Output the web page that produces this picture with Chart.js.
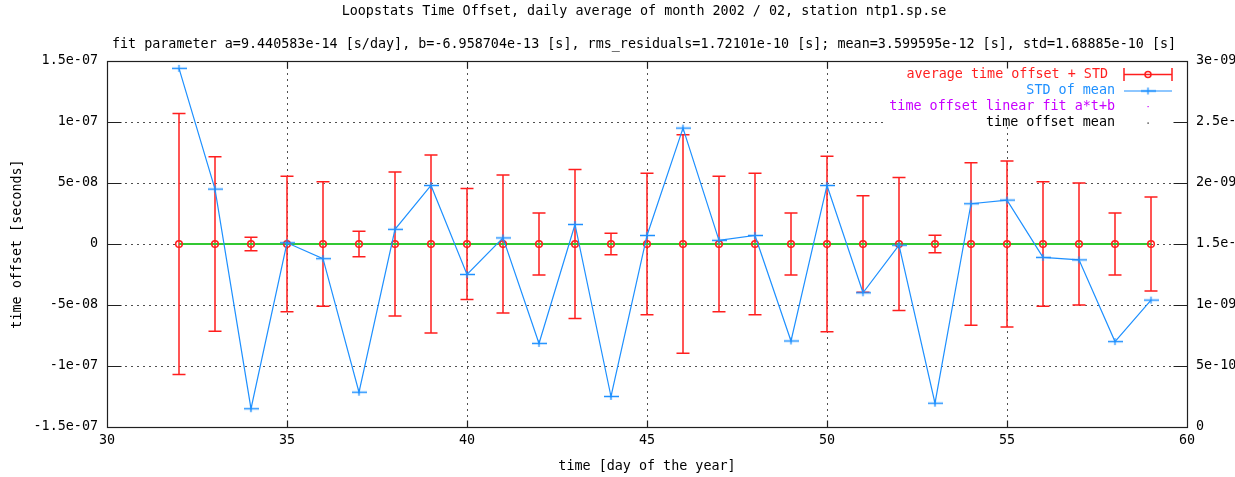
<!DOCTYPE html>
<html><head><meta charset="utf-8">
<script src="https://cdn.jsdelivr.net/npm/chart.js@4/dist/chart.umd.min.js"></script>
<style>html,body{margin:0;padding:0;background:#fff;overflow:hidden}canvas{display:block}</style>
</head><body>
<canvas id="c" width="1235" height="477"></canvas>
<script>
// ---------- data ----------
const titleText = 'Loopstats Time Offset, daily average of month 2002 / 02, station ntp1.sp.se';
const subtitleText = 'fit parameter a=9.440583e-14 [s/day], b=-6.958704e-13 [s], rms_residuals=1.72101e-10 [s]; mean=3.599595e-12 [s], std=1.68885e-10 [s]';
const xTitle = 'time [day of the year]';
const yTitle = 'time offset [seconds]';
const legendLabels = ['average time offset + STD', 'STD of mean', 'time offset linear fit a*t+b', 'time offset mean'];

const days = [32,33,34,35,36,37,38,39,40,41,42,43,44,45,46,47,48,49,50,51,52,53,54,55,56,57,58,59];
const avgOffset = [0,0,0,0,0,0,0,0,0,0,0,0,0,0,0,0,0,0,0,0,0,0,0,0,0,0,0,0];
const stdDev = [1.07e-7,7.15e-8,5.5e-9,5.55e-8,5.1e-8,1.05e-8,5.9e-8,7.3e-8,4.55e-8,5.65e-8,
                2.55e-8,6.1e-8,8.8e-9,5.8e-8,8.95e-8,5.55e-8,5.8e-8,2.55e-8,7.2e-8,3.95e-8,
                5.45e-8,7.2e-9,6.65e-8,6.8e-8,5.1e-8,5.0e-8,2.55e-8,3.85e-8];
const stdOfMean = [2.94e-9,1.95e-9,1.5e-10,1.51e-9,1.38e-9,2.85e-10,1.62e-9,1.98e-9,1.25e-9,1.55e-9,
                   6.85e-10,1.66e-9,2.5e-10,1.57e-9,2.45e-9,1.53e-9,1.57e-9,7.05e-10,1.98e-9,1.1e-9,
                   1.49e-9,1.95e-10,1.83e-9,1.86e-9,1.39e-9,1.37e-9,7.0e-10,1.04e-9];
const fitDays = [32, 59];
const fitValues = [2.3e-12, 4.87e-12];
const meanValue = [3.6e-12, 3.6e-12];

const xTicks = [30,35,40,45,50,55,60];
const yTicks = [-1.5e-7,-1e-7,-5e-8,0,5e-8,1e-7,1.5e-7];
const y2Ticks = [0,5e-10,1e-9,1.5e-9,2e-9,2.5e-9,3e-9];

// ---------- styles ----------
const MONO = '"DejaVu Sans Mono", "Liberation Mono", monospace';
const FS = 13.4;
const FONT = FS + 'px ' + MONO;
const RED = 'rgb(255,30,30)';
const BLUE = 'rgb(30,144,255)';
const GREEN = 'rgb(50,200,50)';
const MAGENTA = 'rgb(200,0,255)';

function gfmt(v){
  if (Math.abs(v) < 1e-20) return '0';
  const s = Number(v.toPrecision(6)).toExponential();
  let [m, e] = s.split('e');
  m = String(Number(m));
  const sign = e[0] === '-' ? '-' : '+';
  let ed = e.replace(/^[+-]/, '');
  if (ed.length < 2) ed = '0' + ed;
  return m + 'e' + sign + ed;
}

// plus marker (wide horizontal, short vertical)
function makePlus(color){
  const c = document.createElement('canvas');
  c.width = 15; c.height = 9;
  const g = c.getContext('2d');
  g.strokeStyle = color; g.lineWidth = 1.3;
  g.beginPath(); g.moveTo(0, 4.5); g.lineTo(15, 4.5);
  g.moveTo(7.5, 1); g.lineTo(7.5, 8); g.stroke();
  return c;
}
const plusMarker = makePlus(BLUE);

const fixTicks = arr => s => { s.ticks = arr.map(v => ({value: v})); };

const framePlugin = {
  id: 'gnuframe',
  beforeDatasetsDraw(chart){
    const {ctx, chartArea: a, scales: {x, y}} = chart;
    ctx.save();
    // dotted grid
    ctx.strokeStyle = '#505050'; ctx.lineWidth = 1; ctx.setLineDash([2, 4]);
    ctx.beginPath();
    xTicks.slice(1, -1).forEach(v => {
      const px = Math.round(x.getPixelForValue(v)) + 0.5;
      ctx.moveTo(px, a.top); ctx.lineTo(px, a.bottom);
    });
    yTicks.slice(1, -1).forEach(v => {
      const py = Math.round(y.getPixelForValue(v)) + 0.5;
      ctx.moveTo(a.left, py); ctx.lineTo(a.right, py);
    });
    ctx.stroke();
    ctx.setLineDash([]);
    // legend background
    ctx.fillStyle = '#fff';
    ctx.fillRect(a.right - 300, a.top + 1, 285, 65);
    // error bars
    ctx.strokeStyle = RED; ctx.lineWidth = 1.5;
    ctx.beginPath();
    days.forEach((d, i) => {
      const px = x.getPixelForValue(d);
      const t = y.getPixelForValue(avgOffset[i] + stdDev[i]);
      const b = y.getPixelForValue(avgOffset[i] - stdDev[i]);
      ctx.moveTo(px, t); ctx.lineTo(px, b);
      ctx.moveTo(px - 6.5, t); ctx.lineTo(px + 6.5, t);
      ctx.moveTo(px - 6.5, b); ctx.lineTo(px + 6.5, b);
    });
    ctx.stroke();
    ctx.restore();
  },
  afterDatasetsDraw(chart){
    const {ctx, chartArea: a, scales: {x, y, y2}} = chart;
    ctx.save();
    ctx.strokeStyle = '#202020'; ctx.lineWidth = 1.2;
    const L = Math.round(a.left) + 0.5, R = Math.round(a.right) + 0.5;
    const T = Math.round(a.top) + 0.5, B = Math.round(a.bottom) + 0.5;
    ctx.strokeRect(L, T, R - L, B - T);
    ctx.beginPath();
    xTicks.slice(1, -1).forEach(v => {
      const px = Math.round(x.getPixelForValue(v)) + 0.5;
      ctx.moveTo(px, B); ctx.lineTo(px, B - 7);
      ctx.moveTo(px, T); ctx.lineTo(px, T + 7);
    });
    yTicks.slice(1, -1).forEach(v => {
      const py = Math.round(y.getPixelForValue(v)) + 0.5;
      ctx.moveTo(L, py); ctx.lineTo(L + 14, py);
    });
    y2Ticks.slice(1, -1).forEach(v => {
      const py = Math.round(y2.getPixelForValue(v)) + 0.5;
      ctx.moveTo(R, py); ctx.lineTo(R - 14, py);
    });
    ctx.stroke();
    ctx.restore();
  },
  afterDraw(chart){
    const {ctx, chartArea: a} = chart;
    ctx.save();
    ctx.font = FONT; ctx.fillStyle = '#000'; ctx.textBaseline = 'middle';
    ctx.textAlign = 'center';
    const cx = 644;
    ctx.fillText(titleText, cx, 12);
    ctx.fillText(subtitleText, cx, 45);
    ctx.fillText(xTitle, (a.left + a.right) / 2, 467);
    ctx.save();
    ctx.translate(18, (a.top + a.bottom) / 2);
    ctx.rotate(-Math.PI / 2);
    ctx.fillText(yTitle, 0, 0);
    ctx.restore();
    // legend
    const textRight = a.right - 72;
    const sx0 = a.right - 63, sx1 = a.right - 15, sxc = (sx0 + sx1) / 2;
    const rows = [a.top + 13.5, a.top + 30, a.top + 45.5, a.top + 62];
    const cols = [RED, BLUE, MAGENTA, '#000'];
    ctx.textAlign = 'right';
    legendLabels.forEach((t, i) => {
      ctx.fillStyle = cols[i];
      ctx.fillText(t, i === 0 ? textRight - 7 : textRight, rows[i]);
    });
    // samples
    ctx.lineWidth = 1.5;
    ctx.strokeStyle = RED;
    ctx.beginPath();
    ctx.moveTo(sx0, rows[0]); ctx.lineTo(sx1, rows[0]);
    ctx.moveTo(sx0, rows[0] - 6.5); ctx.lineTo(sx0, rows[0] + 6.5);
    ctx.moveTo(sx1, rows[0] - 6.5); ctx.lineTo(sx1, rows[0] + 6.5);
    ctx.stroke();
    ctx.beginPath(); ctx.arc(sxc, rows[0], 3, 0, Math.PI * 2); ctx.stroke();
    ctx.strokeStyle = BLUE; ctx.lineWidth = 1.2;
    ctx.beginPath(); ctx.moveTo(sx0, rows[1]); ctx.lineTo(sx1, rows[1]); ctx.stroke();
    ctx.drawImage(plusMarker, sxc - 7.5, rows[1] - 4.5);
    ctx.fillStyle = MAGENTA; ctx.fillRect(sxc - 0.5, rows[2] - 0.5, 1.2, 1.2);
    ctx.fillStyle = '#000'; ctx.fillRect(sxc - 0.5, rows[3] - 0.5, 1.2, 1.2);
    ctx.restore();
  }
};

const tickFont = {family: MONO, size: FS};

new Chart(document.getElementById('c'), {
  type: 'line',
  data: {
    datasets: [
      {
        label: legendLabels[1], yAxisID: 'y2',
        data: days.map((d, i) => ({x: d, y: stdOfMean[i]})),
        borderColor: BLUE, borderWidth: 1.2, tension: 0,
        pointStyle: plusMarker, pointRadius: 7, order: 1
      },
      {
        label: legendLabels[0], yAxisID: 'y', showLine: false,
        data: days.map((d, i) => ({x: d, y: avgOffset[i]})),
        pointStyle: 'circle', pointRadius: 3.3, pointBorderWidth: 1.5,
        borderColor: RED, pointBorderColor: RED, pointBackgroundColor: 'rgba(0,0,0,0)',
        backgroundColor: 'rgba(0,0,0,0)', order: 2
      },
      {
        label: legendLabels[2], yAxisID: 'y',
        data: fitDays.map((d, i) => ({x: d, y: fitValues[i]})),
        borderColor: GREEN, borderWidth: 2, pointRadius: 0, order: 3
      },
      {
        label: legendLabels[3], yAxisID: 'y', showLine: false,
        data: fitDays.map((d, i) => ({x: d, y: meanValue[i]})),
        pointRadius: 0, borderColor: '#000', order: 4
      }
    ]
  },
  options: {
    responsive: false, animation: false, devicePixelRatio: 1,
    layout: {padding: {top: 61, left: 0, right: 0, bottom: 0}},
    plugins: {legend: {display: false}, tooltip: {enabled: false}, title: {display: false}},
    scales: {
      x: {
        type: 'linear', min: 30, max: 60,
        afterBuildTicks: fixTicks(xTicks),
        afterFit: s => { s.height = 50; },
        grid: {display: false, drawTicks: false}, border: {display: false},
        ticks: {font: tickFont, color: '#000', padding: 5, maxRotation: 0, autoSkip: false,
                callback: v => String(v)}
      },
      y: {
        type: 'linear', position: 'left', min: -1.5e-7, max: 1.5e-7,
        afterBuildTicks: fixTicks(yTicks),
        afterFit: s => { s.width = 107; },
        grid: {display: false, drawTicks: false}, border: {display: false},
        ticks: {font: tickFont, color: '#000', padding: 9, autoSkip: false, callback: v => gfmt(v)}
      },
      y2: {
        type: 'linear', position: 'right', min: 0, max: 3e-9,
        afterBuildTicks: fixTicks(y2Ticks),
        afterFit: s => { s.width = 48; },
        grid: {display: false, drawTicks: false}, border: {display: false},
        ticks: {font: tickFont, color: '#000', padding: 9, autoSkip: false, callback: v => gfmt(v)}
      }
    }
  },
  plugins: [framePlugin]
});
</script>
</body></html>
